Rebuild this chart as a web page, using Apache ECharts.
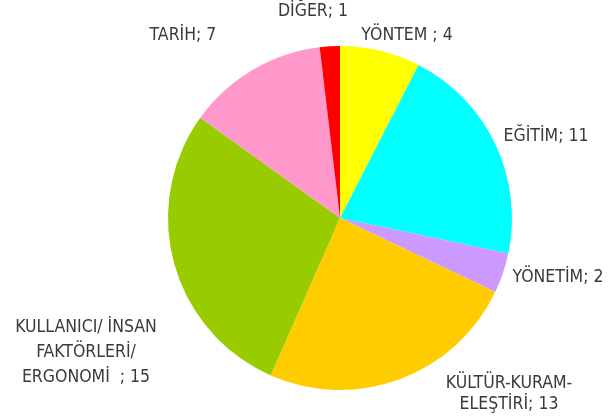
<!DOCTYPE html>
<html><head><meta charset="utf-8">
<script src="https://cdn.jsdelivr.net/npm/echarts@6/dist/echarts.min.js"></script>
<style>html,body{margin:0;padding:0;background:#fff}#c{width:611px;height:418px}</style>
</head><body><div id="c"></div>
<script>
const categories = ['YÖNTEM ', 'EĞİTİM', 'YÖNETİM', 'KÜLTÜR-KURAM-\nELEŞTİRİ', 'KULLANICI/ İNSAN\nFAKTÖRLERİ/\nERGONOMİ  ', 'TARİH', 'DİĞER'];
const values = [4, 11, 2, 13, 15, 7, 1];
const colors = ['#FFFF00', '#00FFFF', '#CC99FF', '#FFCC00', '#99CC00', '#FF99CC', '#FF0000'];
const labelPos = [[407, 35], [546, 136], [558, 277], [509, 394], [86, 352], [183, 35], [313, 11]];
const labelLH = [22, 22, 22, 21, 25, 22, 22];

const chart = echarts.init(document.getElementById('c'));
chart.setOption({
  animation: false,
  series: [{
    type: 'pie',
    center: [340, 218],
    radius: [0, 172],
    startAngle: 90,
    clockwise: true,
    data: categories.map((n, i) => ({ name: n, value: values[i], itemStyle: { color: colors[i] }, label: { lineHeight: labelLH[i] } })),
    label: {
      show: true,
      formatter: p => p.name + '; ' + p.value,
      fontFamily: 'DejaVu Sans Condensed',
      fontSize: 17.5,
      color: '#3a3a3a',
      align: 'center',
      overflow: 'none'
    },
    labelLine: { show: false },
    labelLayout: p => ({ x: labelPos[p.dataIndex][0], y: labelPos[p.dataIndex][1], align: 'center', verticalAlign: 'middle', width: 300 }),
    emphasis: { disabled: true }
  }]
});
</script></body></html>
